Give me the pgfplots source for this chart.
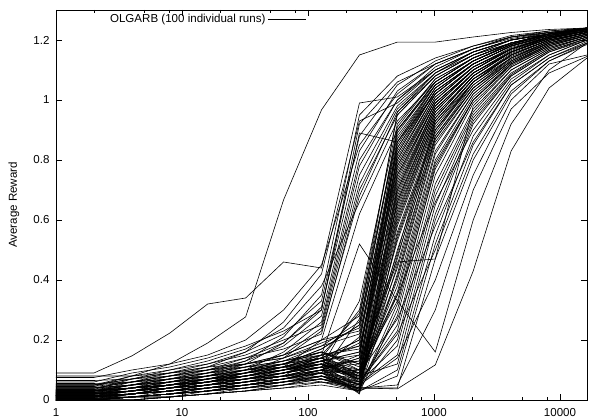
\documentclass[border=0pt]{standalone}
\usepackage{fontspec}
\setmainfont{Liberation Sans}
\usepackage{pgfplots}
\usepackage{pgfplotstable}
\pgfplotsset{compat=1.18}

\pgfplotstableread{
run 1 2 4 8 16 32 64 128 256 512 1024 2048 4096 8192 16384
r1 0.09 0.09 0.147 0.223 0.32 0.34 0.46 0.44 0.99 1.01 1.10 1.16 1.20 1.22 1.235
r2 0.05 0.05 0.08 0.12 0.19 0.277 0.667 0.967 1.15 1.193 1.193 1.21 1.225 1.235 1.24
r3 0.075 0.075 0.10 0.12 0.15 0.20 0.30 0.45 0.85 1.02 1.12 1.17 1.21 1.225 1.235
r4 0.03 0.03 0.05 0.08 0.11 0.16 0.22 0.33 0.88 1.05 1.13 1.18 1.21 1.23 1.24
r5 0.02 0.02 0.04 0.07 0.10 0.13 0.18 0.28 0.80 1.00 1.10 1.16 1.20 1.22 1.235
r6 0.04 0.04 0.06 0.09 0.12 0.15 0.20 0.25 0.75 0.98 1.09 1.16 1.20 1.22 1.235
r7 0.01 0.01 0.03 0.05 0.08 0.12 0.19 0.30 0.92 1.06 1.12 1.17 1.21 1.225 1.24
r8 0.035 0.035 0.07 0.09 0.11 0.14 0.17 0.22 0.70 0.95 1.08 1.15 1.20 1.22 1.235
r9 0.00 0.00 0.02 0.04 0.07 0.10 0.16 0.26 0.78 1.00 1.11 1.17 1.205 1.225 1.235
r10 0.025 0.025 0.05 0.07 0.09 0.13 0.21 0.35 0.95 1.08 1.14 1.18 1.215 1.23 1.24
r11 0.045 0.045 0.08 0.10 0.13 0.17 0.24 0.38 0.66 0.93 1.06 1.14 1.19 1.215 1.23
r12 0.015 0.015 0.03 0.06 0.09 0.12 0.15 0.20 0.62 0.90 1.05 1.13 1.19 1.215 1.23
r13 0.06 0.06 0.09 0.11 0.14 0.18 0.23 0.30 0.89 0.86 1.02 1.12 1.18 1.21 1.23
r14 0.02 0.02 0.04 0.06 0.08 0.11 0.15 0.24 0.72 0.97 1.09 1.16 1.20 1.22 1.235
r15 0.03 0.03 0.06 0.08 0.10 0.14 0.19 0.31 0.83 1.03 1.12 1.17 1.21 1.225 1.24
r16 0.005 0.005 0.02 0.04 0.06 0.09 0.14 0.23 0.68 0.96 1.08 1.15 1.20 1.22 1.235
r17 0.05 0.05 0.07 0.10 0.12 0.16 0.26 0.42 0.93 0.99 1.10 1.16 1.20 1.225 1.235
r18 0.00 0.00 0.01 0.02 0.03 0.05 0.07 0.10 0.15 0.80 1.02 1.12 1.18 1.215 1.235
r19 0.01 0.01 0.02 0.04 0.06 0.08 0.11 0.14 0.20 0.85 1.04 1.13 1.185 1.22 1.235
r20 0.02 0.02 0.03 0.05 0.06 0.09 0.12 0.17 0.25 0.90 1.06 1.14 1.19 1.22 1.24
r21 0.00 0.00 0.00 0.01 0.02 0.03 0.05 0.08 0.025 0.70 0.98 1.10 1.17 1.21 1.23
r22 0.03 0.03 0.05 0.07 0.09 0.11 0.13 0.15 0.085 0.75 0.99 1.10 1.17 1.21 1.23
r23 0.01 0.01 0.02 0.03 0.05 0.08 0.10 0.13 0.065 0.60 0.93 1.07 1.15 1.20 1.225
r24 0.04 0.04 0.06 0.08 0.10 0.12 0.14 0.18 0.22 0.78 1.00 1.11 1.17 1.21 1.23
r25 0.00 0.00 0.01 0.03 0.04 0.06 0.08 0.11 0.02 0.55 0.90 1.06 1.15 1.20 1.225
r26 0.02 0.02 0.04 0.05 0.07 0.10 0.13 0.16 0.12 0.82 1.03 1.12 1.18 1.215 1.235
r27 0.01 0.01 0.02 0.03 0.05 0.07 0.10 0.14 0.30 0.95 1.08 1.15 1.19 1.22 1.24
r28 0.03 0.03 0.04 0.06 0.08 0.10 0.12 0.15 0.18 0.65 0.95 1.08 1.16 1.205 1.23
r29 0.00 0.00 0.00 0.01 0.03 0.05 0.07 0.09 0.07 0.72 0.98 1.10 1.17 1.21 1.23
r30 0.02 0.02 0.03 0.04 0.06 0.08 0.11 0.20 0.28 0.88 1.05 1.13 1.185 1.22 1.235
r31 0.01 0.01 0.03 0.05 0.07 0.09 0.12 0.07 0.055 0.50 0.88 1.05 1.14 1.195 1.225
r32 0.05 0.05 0.07 0.09 0.11 0.12 0.14 0.19 0.24 0.84 1.03 1.12 1.18 1.215 1.235
r33 0.00 0.00 0.01 0.02 0.04 0.06 0.09 0.12 0.09 0.68 0.97 1.09 1.16 1.21 1.23
r34 0.02 0.02 0.03 0.05 0.07 0.09 0.10 0.13 0.16 0.76 1.00 1.11 1.17 1.21 1.23
r35 0.01 0.01 0.02 0.04 0.06 0.07 0.09 0.11 0.33 0.92 1.07 1.14 1.19 1.22 1.24
r36 0.03 0.03 0.04 0.05 0.06 0.08 0.10 0.12 0.035 0.58 0.92 1.07 1.15 1.20 1.225
r37 0.00 0.00 0.02 0.03 0.05 0.07 0.09 0.13 0.19 0.86 1.04 1.13 1.185 1.22 1.235
r38 0.015 0.015 0.03 0.04 0.06 0.09 0.12 0.16 0.11 0.74 0.99 1.10 1.17 1.21 1.23
r39 0.025 0.025 0.04 0.06 0.08 0.10 0.13 0.18 0.26 0.80 1.02 1.12 1.18 1.215 1.235
r40 0.005 0.005 0.01 0.02 0.03 0.04 0.06 0.08 0.045 0.62 0.94 1.08 1.16 1.205 1.23
r41 0.035 0.035 0.05 0.07 0.09 0.11 0.12 0.14 0.08 0.66 0.96 1.09 1.16 1.205 1.23
r42 0.01 0.01 0.02 0.03 0.04 0.06 0.08 0.10 0.14 0.90 1.06 1.14 1.19 1.22 1.24
r43 0.02 0.02 0.03 0.04 0.05 0.07 0.09 0.12 0.075 0.53 0.89 1.06 1.15 1.20 1.225
r44 0.00 0.00 0.01 0.02 0.04 0.06 0.08 0.11 0.21 0.83 1.03 1.12 1.18 1.215 1.235
r45 0.04 0.04 0.05 0.06 0.08 0.09 0.11 0.15 0.17 0.70 0.97 1.09 1.16 1.21 1.23
r46 0.015 0.015 0.02 0.04 0.05 0.07 0.10 0.14 0.06 0.64 0.95 1.08 1.16 1.205 1.23
r47 0.03 0.03 0.04 0.06 0.07 0.09 0.11 0.09 0.10 0.78 1.01 1.11 1.17 1.21 1.23
r48 0.00 0.00 0.01 0.01 0.02 0.04 0.06 0.09 0.27 0.96 1.09 1.15 1.19 1.22 1.24
r49 0.02 0.02 0.04 0.05 0.07 0.08 0.10 0.13 0.07 0.56 0.91 1.06 1.15 1.20 1.225
r50 0.01 0.01 0.02 0.03 0.05 0.07 0.09 0.12 0.13 0.73 0.99 1.10 1.17 1.21 1.23
r51 0.045 0.045 0.06 0.08 0.10 0.12 0.15 0.20 0.23 0.87 1.05 1.13 1.185 1.22 1.235
r52 0.005 0.005 0.01 0.02 0.03 0.05 0.07 0.10 0.03 0.67 0.96 1.09 1.16 1.205 1.23
r53 0.025 0.025 0.03 0.05 0.06 0.08 0.10 0.13 0.16 0.81 1.02 1.12 1.18 1.215 1.235
r54 0.01 0.01 0.02 0.04 0.05 0.07 0.08 0.06 0.05 0.48 0.87 1.04 1.14 1.195 1.225
r55 0.03 0.03 0.05 0.06 0.08 0.10 0.11 0.14 0.20 0.77 1.00 1.11 1.17 1.21 1.23
r56 0.00 0.00 0.00 0.01 0.02 0.03 0.05 0.07 0.04 0.71 0.98 1.10 1.17 1.21 1.23
r57 0.02 0.02 0.03 0.04 0.06 0.08 0.11 0.15 0.29 0.89 1.06 1.14 1.19 1.22 1.24
r58 0.015 0.015 0.03 0.05 0.07 0.08 0.10 0.12 0.08 0.63 0.94 1.08 1.16 1.205 1.23
r59 0.035 0.035 0.04 0.05 0.07 0.09 0.12 0.16 0.12 0.79 1.01 1.11 1.175 1.21 1.23
r60 0.005 0.005 0.02 0.03 0.04 0.06 0.08 0.11 0.05 0.59 0.93 1.07 1.155 1.20 1.225
r61 0.02 0.02 0.03 0.05 0.06 0.08 0.10 0.13 0.15 0.84 1.04 1.13 1.185 1.22 1.235
r62 0.01 0.01 0.02 0.03 0.04 0.05 0.07 0.10 0.09 0.69 0.97 1.09 1.165 1.21 1.23
r63 0.04 0.04 0.05 0.07 0.08 0.10 0.12 0.17 0.25 0.91 1.07 1.14 1.19 1.22 1.24
r64 0.00 0.00 0.01 0.02 0.03 0.05 0.07 0.09 0.035 0.54 0.90 1.06 1.15 1.20 1.225
r65 0.025 0.025 0.04 0.05 0.07 0.09 0.11 0.14 0.18 0.75 0.99 1.10 1.17 1.21 1.23
r66 0.01 0.01 0.02 0.04 0.05 0.07 0.09 0.12 0.10 0.82 1.03 1.12 1.18 1.215 1.235
r67 0.03 0.03 0.04 0.05 0.06 0.08 0.10 0.11 0.08 0.61 0.94 1.08 1.16 1.205 1.23
r68 0.015 0.015 0.02 0.03 0.05 0.06 0.08 0.10 0.14 0.86 1.05 1.13 1.185 1.22 1.235
r69 0.00 0.00 0.01 0.02 0.03 0.04 0.06 0.08 0.03 0.66 0.96 1.09 1.16 1.205 1.23
r70 0.02 0.02 0.03 0.04 0.06 0.08 0.10 0.12 0.07 0.40 0.85 1.03 1.13 1.19 1.22
r71 0.01 0.01 0.02 0.03 0.04 0.06 0.08 0.09 0.025 0.30 0.78 1.00 1.12 1.18 1.215
r72 0.00 0.00 0.01 0.02 0.03 0.05 0.07 0.10 0.05 0.45 0.90 1.05 1.14 1.19 1.22
r73 0.03 0.03 0.04 0.05 0.07 0.08 0.09 0.11 0.07 0.35 0.80 1.01 1.12 1.185 1.215
r74 0.015 0.015 0.02 0.03 0.05 0.07 0.09 0.12 0.06 0.25 0.72 0.97 1.10 1.17 1.21
r75 0.005 0.005 0.01 0.02 0.03 0.04 0.05 0.07 0.03 0.42 0.88 1.04 1.135 1.19 1.22
r76 0.02 0.02 0.03 0.05 0.06 0.07 0.09 0.11 0.13 0.47 0.92 1.06 1.14 1.195 1.225
r77 0.01 0.01 0.02 0.03 0.05 0.06 0.08 0.10 0.08 0.38 0.83 1.02 1.125 1.185 1.22
r78 0.04 0.04 0.05 0.06 0.07 0.09 0.11 0.14 0.10 0.33 0.79 1.00 1.12 1.18 1.215
r79 0.00 0.00 0.00 0.01 0.02 0.03 0.04 0.06 0.04 0.20 0.68 0.95 1.09 1.165 1.205
r80 0.025 0.025 0.03 0.04 0.06 0.08 0.10 0.13 0.09 0.44 0.87 1.04 1.13 1.19 1.22
r81 0.01 0.01 0.02 0.04 0.05 0.06 0.07 0.09 0.05 0.28 0.75 0.99 1.11 1.175 1.21
r82 0.03 0.03 0.05 0.06 0.07 0.08 0.10 0.12 0.07 0.36 0.82 1.02 1.125 1.185 1.215
r83 0.00 0.00 0.01 0.02 0.03 0.04 0.06 0.08 0.055 0.15 0.62 0.93 1.08 1.16 1.20
r84 0.02 0.02 0.03 0.04 0.05 0.07 0.09 0.11 0.12 0.46 0.47 0.98 1.11 1.175 1.21
r85 0.015 0.015 0.02 0.03 0.04 0.05 0.07 0.09 0.06 0.23 0.70 0.96 1.10 1.17 1.21
r86 0.05 0.05 0.06 0.07 0.08 0.09 0.11 0.13 0.08 0.41 0.86 1.03 1.13 1.19 1.22
r87 0.01 0.01 0.01 0.02 0.03 0.05 0.06 0.08 0.035 0.32 0.77 1.00 1.115 1.18 1.215
r88 0.03 0.03 0.04 0.05 0.06 0.07 0.08 0.10 0.06 0.18 0.65 0.94 1.085 1.165 1.205
r89 0.00 0.00 0.01 0.02 0.04 0.05 0.07 0.09 0.10 0.49 0.93 1.07 1.145 1.195 1.225
r90 0.02 0.02 0.03 0.04 0.05 0.06 0.08 0.15 0.52 0.33 0.16 0.60 0.92 1.10 1.19
r91 0.01 0.01 0.02 0.03 0.04 0.05 0.06 0.07 0.04 0.037 0.117 0.43 0.83 1.04 1.14
r92 0.02 0.02 0.03 0.04 0.05 0.06 0.07 0.08 0.04 0.04 0.47 0.80 1.02 1.13 1.19
r93 0.00 0.00 0.01 0.02 0.03 0.04 0.05 0.06 0.03 0.10 0.55 0.88 1.06 1.15 1.20
r94 0.03 0.03 0.04 0.05 0.06 0.07 0.08 0.09 0.05 0.14 0.40 0.75 1.00 1.12 1.15
r95 0.01 0.01 0.02 0.03 0.04 0.05 0.06 0.07 0.04 0.05 0.30 0.70 0.97 1.09 1.145
r96 0.065 0.065 0.07 0.08 0.09 0.10 0.11 0.12 0.08 0.12 0.60 0.92 1.08 1.16 1.205
r97 0.00 0.00 0.01 0.01 0.02 0.03 0.04 0.05 0.03 0.08 0.52 0.85 1.05 1.14 1.195
r98 0.015 0.015 0.02 0.03 0.04 0.05 0.06 0.08 0.06 0.22 0.50 0.82 1.03 1.13 1.185
r99 0.055 0.055 0.06 0.07 0.08 0.10 0.12 0.14 0.09 0.27 0.58 0.86 1.05 1.14 1.19
r100 0.08 0.08 0.08 0.09 0.10 0.11 0.13 0.16 0.10 0.35 0.66 0.90 1.07 1.15 1.20
}\runs
\pgfplotstabletranspose[colnames from=run, input colnames to=x]{\tr}{\runs}

\begin{document}
\begin{tikzpicture}
\begin{axis}[
  at={(0,0)}, anchor=south west,
  scale only axis, width=531bp, height=390bp,
  xmode=log, log basis x=10,
  xmin=1, xmax=16384, ymin=0, ymax=1.3,
  xtick={1,10,100,1000,10000},
  xticklabels={1,10,100,1000,10000},
  minor xtick={2,5,8,20,50,80,200,500,800,2000,5000,8000},
  ytick={0,0.2,0.4,0.6,0.8,1,1.2},
  yticklabels={0,0.2,0.4,0.6,0.8,1,1.2},
  /pgf/number format/assume math mode=true,
  tick align=inside,
  major tick length=6bp, minor tick length=3bp,
  tick style={black, line width=0.6pt},
  axis line style={black, line width=0.6pt},
  ticklabel style={font=\fontsize{11.6}{13.9}\selectfont},
  xticklabel style={yshift=-5bp},
  yticklabel style={xshift=-3bp},
  ylabel={Average Reward},
  ylabel style={font=\fontsize{11.6}{13.9}\selectfont, at={(axis description cs:-0.0791,0.5)}, anchor=center},
  legend plot pos=right,
  legend cell align=right,
  legend image code/.code={\path (0bp,0bp) -- (6bp,0bp); \draw[#1] (6bp,0bp) -- (38bp,0bp);},
  legend style={draw=none, fill=none, at={(axis description cs:0.471,0.977)}, anchor=east,
    font=\fontsize{11.6}{13.9}\selectfont, inner sep=0pt, outer sep=0pt},
]
\addlegendimage{black, line width=0.6pt}
\addlegendentry{OLGARB (100 individual runs)}
\pgfplotsinvokeforeach{1,...,100}{
  \addplot[black, line width=0.6pt, forget plot] table[x=x, y=r#1]{\tr};
}
\end{axis}
\pgfresetboundingbox
\path (-56bp,-20bp) rectangle (536bp,400bp);
\end{tikzpicture}
\end{document}
